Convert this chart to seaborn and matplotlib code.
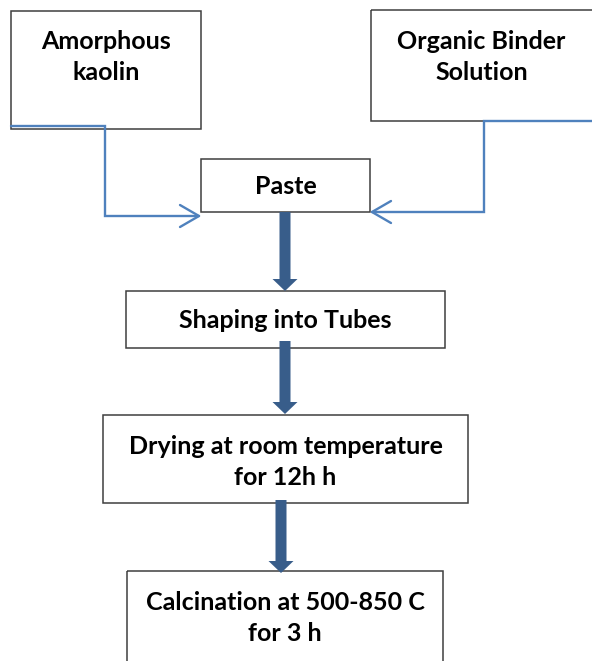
import matplotlib
matplotlib.use("Agg")
import matplotlib.pyplot as plt
import seaborn as sns

# flowchart content
box_labels = [
    "Amorphous\nkaolin",
    "Organic Binder\nSolution",
    "Paste",
    "Shaping into Tubes",
    "Drying at room temperature\nfor 12h h",
    "Calcination at 500-850 C\nfor 3 h",
]

# layout in pixel units: left, top, right, bottom, text centre y
box_layout = [
    (11, 11, 201, 129, 57),
    (371, 10, 600, 121, 57),
    (201, 159, 370, 212, 187),
    (126, 291, 445, 348, 320),
    (103, 415, 468, 503, 462),
    (127, 571, 443, 670, 618),
]

# thin connector paths (polyline, arrow tip at the end)
thin_paths = [
    ([11, 105, 105, 199], [126, 126, 216, 216]),
    ([600, 484, 484, 372], [121, 121, 212, 212]),
]

# thick down arrows: x, start y, end y
thick_arrows = [
    (285, 212, 291),
    (285, 341, 414),
    (281, 500, 573),
]

EDGE = "#3f3f3f"
THIN = "#4f81bd"
THICK = "#385d8a"


def draw_chart():
    sns.set_theme(style="white")
    plt.rcParams["font.family"] = ["Lato", "DejaVu Sans"]

    fig = plt.figure(figsize=(5.92, 6.61), dpi=100)
    ax = fig.add_axes([0, 0, 1, 1])
    ax.set_xlim(0, 592)
    ax.set_ylim(661, 0)
    ax.axis("off")

    for label, (l, t, r, b, ty) in zip(box_labels, box_layout):
        ax.add_patch(plt.Rectangle((l, t), r - l, b - t, fill=False,
                                   edgecolor=EDGE, linewidth=1.1))
        cx = (l + min(r, 592)) / 2
        ax.text(cx, ty, label, ha="center", va="center", fontsize=18,
                fontweight="bold", color="black", linespacing=1.45)

    for xs, ys in thin_paths:
        ax.plot(xs, ys, color=THIN, linewidth=1.7, solid_joinstyle="miter")
        tx, ty = xs[-1], ys[-1]
        d = 1 if xs[-1] > xs[-2] else -1
        ax.plot([tx - d * 19, tx, tx - d * 19], [ty - 11, ty, ty + 11],
                color=THIN, linewidth=1.7)

    for x, y0, y1 in thick_arrows:
        ax.arrow(x, y0, 0, y1 - y0, width=11, head_width=25, head_length=12,
                 length_includes_head=True, color=THICK, linewidth=0)

    fig.savefig("out.png", dpi=100)


if __name__ == "__main__":
    draw_chart()
